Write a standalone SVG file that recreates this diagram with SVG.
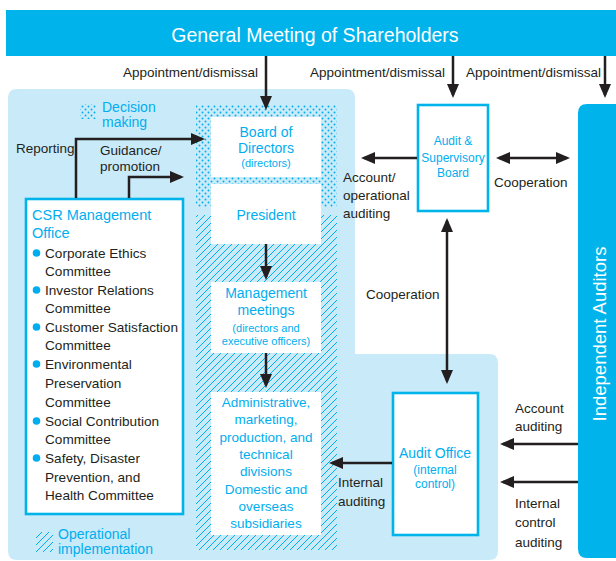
<svg xmlns="http://www.w3.org/2000/svg" width="616" height="561" viewBox="0 0 616 561">
<style>
text{font-family:"Liberation Sans",Arial,sans-serif;}
.lbl{font-size:13.5px;fill:#231F20;}
.cy{fill:#00AEEF;}
.wb{fill:#FFFFFF;}
.box{fill:#FFFFFF;stroke:#00B4EB;stroke-width:2.6;}
.ln{fill:none;stroke:#231F20;stroke-width:2.5;}
.mid{text-anchor:middle;}
</style>
<defs>
<pattern id="dots" patternUnits="userSpaceOnUse" width="6" height="6">
<circle cx="1.5" cy="1.5" r="0.95" fill="#00AEEF"/>
<circle cx="4.5" cy="4.5" r="0.95" fill="#00AEEF"/>
</pattern>
<pattern id="hatch" patternUnits="userSpaceOnUse" width="7" height="7">
<path d="M-1,1 L1,-1 M0,7 L7,0 M6,8 L8,6" stroke="#00AEEF" stroke-width="1"/>
</pattern>
<marker id="ah" viewBox="0 0 14 12" refX="11" refY="6" markerWidth="14" markerHeight="12" orient="auto-start-reverse" markerUnits="userSpaceOnUse">
<path d="M0,0 L14,6 L0,12 Z" fill="#231F20"/>
</marker>
</defs>

<!-- light panel -->
<path id="panel" d="M17,89 H346 Q355,89 355,98 V354 H489 Q498,354 498,363 V551 Q498,560 489,560 H17 Q8,560 8,551 V98 Q8,89 17,89 Z" fill="#C9EAF9"/>

<!-- top bar -->
<g id="shareholders">
<rect x="6" y="10" width="610" height="46" fill="#00B4EB"/>
<text x="315" y="42" class="wb mid" font-size="19.5">General Meeting of Shareholders</text>
</g>

<!-- independent auditors -->
<g id="independent-auditors">
<path d="M587,104 H616 V558 H587 Q578,558 578,549 V113 Q578,104 587,104 Z" fill="#00B4EB"/>
<text transform="translate(606,334) rotate(-90)" class="wb mid" font-size="18.5">Independent Auditors</text>
</g>

<!-- legend -->
<g id="legend-decision">
<rect x="80" y="104" width="16" height="15" fill="url(#dots)"/>
<text x="102" y="112" class="cy" font-size="14">Decision</text>
<text x="102" y="127" class="cy" font-size="14">making</text>
</g>
<g id="legend-operational">
<rect x="36" y="532" width="17" height="20" fill="url(#hatch)"/>
<text x="58" y="539" class="cy" font-size="14">Operational</text>
<text x="58" y="554" class="cy" font-size="14">implementation</text>
</g>

<!-- pattern areas -->
<rect x="196" y="105" width="141" height="102" fill="url(#dots)"/>
<rect x="196" y="215" width="141" height="335" fill="url(#hatch)"/>

<!-- nodes -->
<g id="board">
<rect x="211" y="117" width="110" height="60" fill="#FFFFFF"/>
<text x="266" y="137" class="cy mid" font-size="14">Board of</text>
<text x="266" y="153" class="cy mid" font-size="14">Directors</text>
<text x="266" y="167" class="cy mid" font-size="11">(directors)</text>
</g>
<g id="president">
<rect x="211" y="184" width="110" height="60" fill="#FFFFFF"/>
<text x="266" y="220" class="cy mid" font-size="14">President</text>
</g>
<g id="management">
<rect x="211" y="282" width="110" height="71" fill="#FFFFFF"/>
<text x="266" y="298" class="cy mid" font-size="14">Management</text>
<text x="266" y="315" class="cy mid" font-size="14">meetings</text>
<text x="266" y="332" class="cy mid" font-size="11">(directors and</text>
<text x="266" y="345" class="cy mid" font-size="11">executive officers)</text>
</g>
<g id="divisions">
<rect x="211" y="392" width="110" height="143" fill="#FFFFFF"/>
<text x="266" y="407" class="cy mid" font-size="13.5">Administrative,</text>
<text x="266" y="424" class="cy mid" font-size="13.5">marketing,</text>
<text x="266" y="442" class="cy mid" font-size="13.5">production, and</text>
<text x="266" y="459" class="cy mid" font-size="13.5">technical</text>
<text x="266" y="476" class="cy mid" font-size="13.5">divisions</text>
<text x="266" y="494" class="cy mid" font-size="13.5">Domestic and</text>
<text x="266" y="511" class="cy mid" font-size="13.5">overseas</text>
<text x="266" y="528" class="cy mid" font-size="13.5">subsidiaries</text>
</g>
<g id="csr">
<rect x="26" y="199" width="157" height="315" class="box"/>
<text x="32" y="220" class="cy" font-size="14.5">CSR Management</text>
<text x="32" y="238" class="cy" font-size="14.5">Office</text>
<g fill="#00AEEF">
<circle cx="36.5" cy="253" r="3.8"/>
<circle cx="36.5" cy="290" r="3.8"/>
<circle cx="36.5" cy="327" r="3.8"/>
<circle cx="36.5" cy="364" r="3.8"/>
<circle cx="36.5" cy="421" r="3.8"/>
<circle cx="36.5" cy="458" r="3.8"/>
</g>
<g font-size="13.6" fill="#231F20">
<text x="45" y="258">Corporate Ethics</text>
<text x="45" y="276">Committee</text>
<text x="45" y="295">Investor Relations</text>
<text x="45" y="313">Committee</text>
<text x="45" y="332">Customer Satisfaction</text>
<text x="45" y="350">Committee</text>
<text x="45" y="369">Environmental</text>
<text x="45" y="388">Preservation</text>
<text x="45" y="407">Committee</text>
<text x="45" y="426">Social Contribution</text>
<text x="45" y="444">Committee</text>
<text x="45" y="463">Safety, Disaster</text>
<text x="45" y="482">Prevention, and</text>
<text x="45" y="500">Health Committee</text>
</g>
</g>
<g id="audit-board">
<rect x="418" y="105" width="70" height="106" class="box"/>
<text x="453" y="145" class="cy mid" font-size="12">Audit &amp;</text>
<text x="453" y="162" class="cy mid" font-size="12">Supervisory</text>
<text x="453" y="177" class="cy mid" font-size="12">Board</text>
</g>
<g id="audit-office">
<rect x="393" y="393" width="85" height="142" class="box"/>
<text x="435" y="458" class="cy mid" font-size="14">Audit Office</text>
<text x="435" y="474" class="cy mid" font-size="12">(internal</text>
<text x="435" y="488" class="cy mid" font-size="12">control)</text>
</g>

<!-- connectors -->
<g id="connectors">
<line x1="266" y1="56" x2="266" y2="107" class="ln" marker-end="url(#ah)"/>
<line x1="453" y1="56" x2="453" y2="95" class="ln" marker-end="url(#ah)"/>
<line x1="605" y1="56" x2="605" y2="95" class="ln" marker-end="url(#ah)"/>
<path d="M76,198 V139 H202" class="ln" marker-end="url(#ah)"/>
<path d="M129,198 V177 H181" class="ln" marker-end="url(#ah)"/>
<line x1="266" y1="244" x2="266" y2="277" class="ln" marker-end="url(#ah)"/>
<line x1="266" y1="353" x2="266" y2="385" class="ln" marker-end="url(#ah)"/>
<line x1="417" y1="158" x2="364" y2="158" class="ln" marker-end="url(#ah)"/>
<line x1="499" y1="158" x2="567" y2="158" class="ln" marker-start="url(#ah)" marker-end="url(#ah)"/>
<line x1="447" y1="221" x2="447" y2="381" class="ln" marker-start="url(#ah)" marker-end="url(#ah)"/>
<line x1="392" y1="463" x2="332" y2="463" class="ln" marker-end="url(#ah)"/>
<line x1="578" y1="444" x2="503" y2="444" class="ln" marker-end="url(#ah)"/>
<line x1="578" y1="482" x2="503" y2="482" class="ln" marker-end="url(#ah)"/>
</g>

<!-- labels -->
<g id="labels" class="lbl">
<text x="123" y="77">Appointment/dismissal</text>
<text x="310" y="77">Appointment/dismissal</text>
<text x="466" y="77">Appointment/dismissal</text>
<text x="16" y="153">Reporting</text>
<text x="100" y="155">Guidance/</text>
<text x="100" y="171">promotion</text>
<text x="343" y="182">Account/</text>
<text x="343" y="200">operational</text>
<text x="343" y="218">auditing</text>
<text x="494" y="187">Cooperation</text>
<text x="366" y="299">Cooperation</text>
<text x="338" y="487">Internal</text>
<text x="338" y="506">auditing</text>
<text x="515" y="413">Account</text>
<text x="515" y="431">auditing</text>
<text x="515" y="508">Internal</text>
<text x="515" y="527">control</text>
<text x="515" y="547">auditing</text>
</g>
</svg>
